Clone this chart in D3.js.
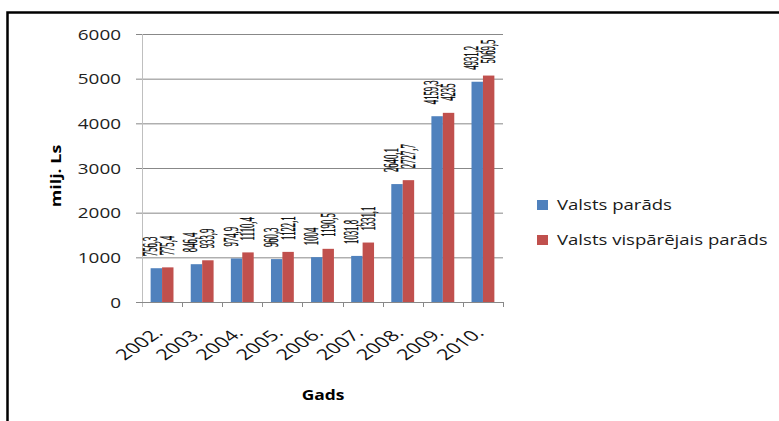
<!DOCTYPE html>
<html>
<head>
<meta charset="utf-8">
<script src="https://cdn.jsdelivr.net/npm/d3@7"></script>
<style>
  html, body { margin: 0; padding: 0; background: #fff; }
  svg { display: block; }
</style>
</head>
<body>
<svg id="chart" width="779" height="421"></svg>
<script>
// data
const years = ['2002.', '2003.', '2004.', '2005.', '2006.', '2007.', '2008.', '2009.', '2010.'];
const valstsParads = [756.3, 846.4, 974.9, 960.3, 1004, 1031.8, 2640.1, 4159.3, 4931.2];
const vispParads = [775.4, 933.9, 1110.4, 1122.1, 1190.5, 1331.1, 2727.7, 4235, 5069.5];
const yTicks = [0, 1000, 2000, 3000, 4000, 5000, 6000];
const seriesNames = ['Valsts parāds', 'Valsts vispārējais parāds'];
const seriesColors = ['#4f81bd', '#c0504d'];

const svg = d3.select('#chart');
const sans = "'Open Sans', sans-serif";

const x = d3.scaleBand().domain(years).range([142, 503]).paddingInner(0.43).paddingOuter(0.215);
const xs = d3.scaleBand().domain([0, 1]).range([0, x.bandwidth()]);
const y = d3.scaleLinear().domain([0, 6000]).range([302, 34]);

const fmt = v => String(v).replace('.', ',');

// outer frame (only top and left edges are in view)
svg.append('path')
  .attr('d', 'M7.5,421 V12.5 H779')
  .attr('fill', 'none').attr('stroke', '#000').attr('stroke-width', 2.5);

// gridlines + y axis
const yAxis = svg.append('g').attr('transform', 'translate(142,0)')
  .call(d3.axisLeft(y).tickValues(yTicks).tickSize(6).tickFormat(''));
yAxis.select('.domain').remove();
yAxis.selectAll('.tick line').attr('stroke', '#888');
yAxis.selectAll('.tick').append('line')
  .attr('x1', 0).attr('x2', 503 - 142)
  .attr('stroke', '#888');
svg.append('line')
  .attr('x1', 142.5).attr('x2', 142.5).attr('y1', y(6000)).attr('y2', 307)
  .attr('stroke', '#bfbfbf');

yAxis.selectAll('.tick').append('text')
  .attr('transform', 'translate(-21,0) scale(1.35,1)')
  .attr('dy', '0.36em')
  .attr('text-anchor', 'end')
  .attr('fill', '#222')
  .style('font-family', sans).style('font-size', '14px')
  .text(d => d);

// x axis
svg.append('line')
  .attr('x1', 136).attr('x2', 503).attr('y1', y(0) + 0.5).attr('y2', y(0) + 0.5)
  .attr('stroke', '#888');
svg.append('g').selectAll('line')
  .data(years.slice(1).map(d => x(d) - x.step() * x.paddingInner() / 2).concat([503]))
  .join('line')
  .attr('x1', d => Math.round(d) + 0.5).attr('x2', d => Math.round(d) + 0.5)
  .attr('y1', y(0)).attr('y2', y(0) + 5)
  .attr('stroke', '#888');

svg.append('g').selectAll('text')
  .data(years)
  .join('text')
  .attr('transform', d => `translate(${x(d) + x.bandwidth() / 2 + 2},334) scale(1.45,1) rotate(-45)`)
  .attr('text-anchor', 'end')
  .attr('fill', '#111')
  .style('font-family', sans).style('font-size', '15px')
  .text(d => d);

// bars
const series = [valstsParads, vispParads];
series.forEach((vals, si) => {
  const g = svg.append('g');
  g.selectAll('rect')
    .data(years)
    .join('rect')
    .attr('x', d => x(d) + xs(si))
    .attr('width', xs.bandwidth())
    .attr('y', (d, i) => y(vals[i]))
    .attr('height', (d, i) => y(0) - y(vals[i]))
    .attr('fill', seriesColors[si]);

  // vertical data labels
  g.selectAll('text')
    .data(years)
    .join('text')
    .attr('transform', (d, i) => {
      const cx = x(d) + xs(si) + xs.bandwidth() / 2 + (si === 0 ? -5.5 : 0) + 6.5;
      return `translate(${cx},${y(vals[i]) - 12}) rotate(-90) scale(0.58,1.45)`;
    })
    .attr('fill', '#000')
    .attr('stroke', '#000').attr('stroke-width', 0.3)
    .style('font-family', "'Liberation Serif', 'Times New Roman', serif")
    .style('font-size', '15px')
    .text((d, i) => fmt(vals[i]));
});

// axis titles
svg.append('text')
  .attr('transform', `translate(61,${(34 + 302) / 2 + 8}) rotate(-90) scale(1.28,1)`)
  .attr('text-anchor', 'middle')
  .attr('fill', '#000')
  .style('font-family', sans).style('font-size', '14px').style('font-weight', 'bold')
  .text('milj. Ls');

svg.append('text')
  .attr('transform', 'translate(323,400) scale(1.16,1)')
  .attr('text-anchor', 'middle')
  .attr('fill', '#000')
  .style('font-family', sans).style('font-size', '15px').style('font-weight', 'bold')
  .text('Gads');

// legend
const legend = svg.append('g').selectAll('g')
  .data(seriesNames)
  .join('g')
  .attr('transform', (d, i) => `translate(537,${200 + i * 35})`);
legend.append('rect')
  .attr('width', 11).attr('height', 10)
  .attr('fill', (d, i) => seriesColors[i]);
legend.append('text')
  .attr('transform', 'translate(20,10) scale(1.28,1)')
  .attr('fill', '#1a1a1a')
  .style('font-family', sans).style('font-size', '14.5px')
  .text(d => d);
</script>
</body>
</html>
